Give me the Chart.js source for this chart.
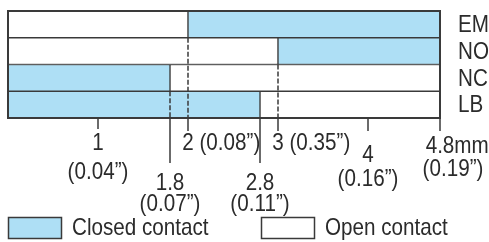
<!DOCTYPE html>
<html>
<head>
<meta charset="utf-8">
<script src="https://cdn.jsdelivr.net/npm/chart.js@4.4.1/dist/chart.umd.min.js"></script>
<style>
  html, body { margin: 0; padding: 0; background: #fff; }
  #wrap { width: 489px; height: 242px; position: relative; }
</style>
</head>
<body>
<div id="wrap"><canvas id="contactChart"></canvas></div>
<script>
// data
const categories = ['EM', 'NO', 'NC', 'LB'];
const closedRanges = [[2, 4.8], [3, 4.8], [0, 1.8], [0, 2.8]];
const openRanges = [[0, 2], [0, 3], [1.8, 4.8], [2.8, 4.8]];
const tickValues = [1, 1.8, 2, 2.8, 3, 4, 4.8];
const tickMm = ['1', '1.8', '2', '2.8', '3', '4', '4.8'];
const tickInch = ['(0.04\u201d)', '(0.07\u201d)', '(0.08\u201d)', '(0.11\u201d)', '(0.35\u201d)', '(0.16\u201d)', '(0.19\u201d)'];
const unitLabel = 'mm';
const legendLabels = ['Closed contact', 'Open contact'];

const FONT = '24px "Liberation Sans", Arial, sans-serif';
const SQUEEZE = 0.86;   // fake a condensed face
const INK = '#3a3a3a';
const TEXT = '#2b2b2b';
const BLUE = '#aedff5';

// how each tick label sits: stacked short/long or inline, tick length, text rows
const tickLayout = [
    { mode: 'stack', len: 11, y1: 143, y2: 172 },
    { mode: 'stack', len: 45, y1: 183, y2: 204 },
    { mode: 'inline', len: 13, y1: 143 },
    { mode: 'stack', len: 45, y1: 183, y2: 204 },
    { mode: 'inline', len: 13, y1: 143 },
    { mode: 'stack', len: 13, y1: 155, y2: 179 },
    { mode: 'unit', len: 13, y1: 146, y2: 169 },
];

function textW(ctx, s) {
    return ctx.measureText(s).width * SQUEEZE;
}

function drawText(ctx, s, x, y, align) {
    const w = textW(ctx, s);
    let left = x;
    if (align === 'center') left = x - w / 2;
    ctx.save();
    ctx.translate(left, y);
    ctx.scale(SQUEEZE, 1);
    ctx.textAlign = 'left';
    ctx.textBaseline = 'middle';
    ctx.fillText(s, 0, 0);
    ctx.restore();
}

const dashPlugin = {
    id: 'dashes',
    afterDatasetsDraw(chart) {
        const { ctx, scales: { x, y }, chartArea } = chart;
        ctx.save();
        ctx.strokeStyle = INK;
        ctx.lineWidth = 1.5;
        ctx.setLineDash([5, 2]);
        // a switch point in one row runs dashed through the rows below it
        closedRanges.forEach((r, i) => {
            if (i === categories.length - 1) return;
            const t = r[0] > 0 ? r[0] : r[1];
            if (t <= 0 || t >= 4.8) return;
            const px = Math.round(x.getPixelForValue(t));
            const top = (y.getPixelForValue(i) + y.getPixelForValue(i + 1)) / 2;
            ctx.beginPath();
            ctx.moveTo(px, top);
            ctx.lineTo(px, chartArea.bottom);
            ctx.stroke();
        });
        ctx.setLineDash([]);
        ctx.lineWidth = 2;
        ctx.strokeRect(chartArea.left, chartArea.top, chartArea.right - chartArea.left, chartArea.bottom - chartArea.top);
        ctx.restore();
    }
};

const axisPlugin = {
    id: 'mmAxis',
    afterDraw(chart) {
        const { ctx, scales: { x, y }, chartArea } = chart;
        ctx.save();
        ctx.strokeStyle = INK;
        ctx.lineWidth = 1.5;
        ctx.fillStyle = TEXT;
        ctx.font = FONT;

        // row names on the right
        categories.forEach((c, i) => {
            drawText(ctx, c, chartArea.right + 18, y.getPixelForValue(i) + 1, 'left');
        });

        tickValues.forEach((v, i) => {
            const L = tickLayout[i];
            const px = Math.round(x.getPixelForValue(v));
            ctx.beginPath();
            ctx.moveTo(px, chartArea.bottom);
            ctx.lineTo(px, chartArea.bottom + L.len);
            ctx.stroke();
            if (L.mode === 'stack') {
                drawText(ctx, tickMm[i], px, L.y1, 'center');
                drawText(ctx, tickInch[i], px, L.y2, 'center');
            } else if (L.mode === 'inline') {
                const w = textW(ctx, tickMm[i]);
                drawText(ctx, tickMm[i] + ' ' + tickInch[i], px - w / 2, L.y1, 'left');
            } else {
                const w = textW(ctx, tickMm[i]);
                drawText(ctx, tickMm[i] + unitLabel, px - w / 2, L.y1, 'left');
                drawText(ctx, tickInch[i], px + 13, L.y2, 'center');
            }
        });

        // legend
        const sw = [{ x: 8, fill: BLUE }, { x: 261, fill: '#ffffff' }];
        sw.forEach((s, i) => {
            ctx.fillStyle = s.fill;
            ctx.fillRect(s.x, 217, 53, 21);
            ctx.strokeStyle = INK;
            ctx.strokeRect(s.x + 0.5, 217.5, 53, 21);
            ctx.fillStyle = TEXT;
            drawText(ctx, legendLabels[i], s.x + 64, 228, 'left');
        });
        ctx.restore();
    }
};

new Chart(document.getElementById('contactChart'), {
    type: 'bar',
    data: {
        labels: categories,
        datasets: [{
            label: legendLabels[0],
            data: closedRanges,
            backgroundColor: BLUE,
            borderColor: INK,
            borderWidth: 1,
            borderSkipped: false,
            grouped: false,
            barPercentage: 1,
            categoryPercentage: 1,
        }, {
            label: legendLabels[1],
            data: openRanges,
            backgroundColor: '#ffffff',
            borderColor: INK,
            borderWidth: 1,
            borderSkipped: false,
            grouped: false,
            barPercentage: 1,
            categoryPercentage: 1,
        }],
    },
    options: {
        indexAxis: 'y',
        responsive: true,
        maintainAspectRatio: false,
        animation: false,
        layout: { padding: { left: 8, top: 11, bottom: 124, right: 49 } },
        plugins: { legend: { display: false }, tooltip: { enabled: false } },
        scales: {
            x: { type: 'linear', min: 0, max: 4.8, display: false },
            y: { type: 'category', display: false },
        },
    },
    plugins: [dashPlugin, axisPlugin],
});
</script>
</body>
</html>
